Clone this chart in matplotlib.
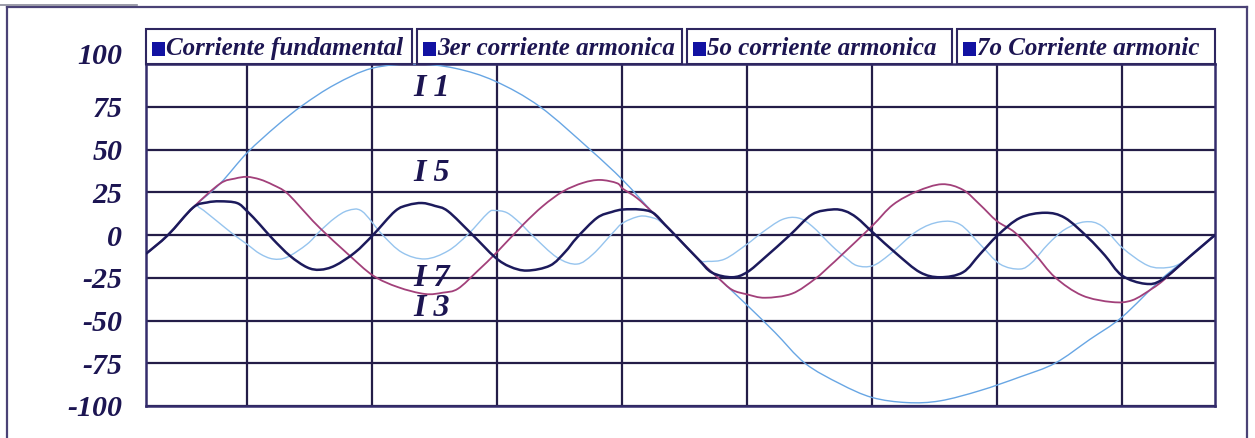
import matplotlib
matplotlib.use('Agg')
import numpy as np
import matplotlib.pyplot as plt
from matplotlib.patches import Rectangle, PathPatch
from matplotlib.lines import Line2D
from matplotlib.path import Path
import matplotlib.transforms as mtransforms

# ---------------- data ----------------
# x: horizontal position in chart units (0 = left edge of plot, 1069 = right edge)
x_i1 = [0, 22, 47, 74, 101, 131, 157, 189, 226, 269, 309, 349, 394, 444, 477, 507,
        529, 552, 572, 601, 629, 659, 694, 726, 761, 794, 834, 874, 909, 944, 976,
        1016, 1044, 1069]
y_i1 = [-11, 0, 16, 30, 48, 64, 76, 88, 97.5, 100, 97.5, 90, 75, 50, 32, 13,
        0, -14, -25, -41, -57, -75, -87, -95, -98, -97, -91, -83, -75, -61, -48,
        -25.5, -12.5, 0]

x_i3 = [0, 22, 47, 74, 89, 101, 114, 127, 141, 161, 174, 202, 227, 252, 279, 297,
        312, 332, 351, 377, 397, 417, 437, 454, 471, 477, 491, 507, 529, 552, 572,
        586, 601, 619, 646, 669, 684, 696, 726, 747, 771, 796, 817, 834, 851, 869,
        889, 909, 936, 966, 986, 1006, 1019, 1044, 1069]
y_i3 = [-11, 0, 16, 30, 33, 34, 32.5, 29.3, 24.5, 12, 4, -11.2, -23.7, -30.5, -34.5, -33.7,
        -31.4, -20.8, -10, 6, 17, 25.5, 30.5, 32.2, 30.3, 27, 21.6, 13, 0, -14, -25,
        -32, -34.7, -36.7, -34.3, -25.7, -18, -11.5, 5.2, 17.7, 25.5, 29.7, 26.4, 17.7, 8.1, 1.4,
        -11.2, -24.7, -35.3, -39.2, -38.2, -31.4, -25.7, -12.5, 0]

x_i5 = [0, 22, 47, 61, 74, 91, 101, 114, 127, 144, 161, 174, 189, 209, 227, 249,
        262, 276, 289, 302, 326, 349, 364, 381, 404, 419, 431, 451, 466, 477, 494,
        507, 519, 529, 552, 566, 586, 601, 619, 644, 666, 686, 699, 711, 727, 751,
        774, 794, 817, 834, 852, 874, 899, 919, 942, 959, 976, 999, 1016, 1044, 1069]
y_i5 = [-11, 0, 16, 19, 19.7, 18.7, 14, 6, -2.5, -12.2, -18.9, -20.3, -17.9, -10.2, 0, 13.9,
        17.5, 18.7, 17, 13.9, 0.4, -13, -18.5, -20.8, -17.9, -10, -1.5, 10, 13.5, 14.9, 14.9,
        13, 6, 0, -14, -22, -24.7, -21.8, -13.1, 0, 12, 14.9, 14, 10, 1.4, -11.2,
        -21.8, -24.7, -21.8, -11.2, 0, 10, 13, 10, -1.5, -12, -23.7, -28.5, -26.2, -12.5, 0]

x_i7 = [0, 22, 47, 54, 71, 86, 101, 114, 127, 141, 161, 174, 189, 202, 216, 236,
        256, 279, 302, 322, 342, 349, 361, 374, 387, 411, 431, 447, 467, 477, 494,
        507, 514, 529, 552, 562, 579, 601, 616, 636, 652, 666, 686, 699, 711, 727,
        744, 771, 794, 814, 834, 854, 874, 886, 902, 919, 939, 956, 976, 1002, 1022,
        1036, 1052, 1069]
y_i7 = [-11, 0, 16, 15.8, 8.1, 1, -5.4, -11, -14, -13, -5.4, 2.3, 10, 14.3, 13.9, 0.4,
        -10.2, -14, -9.3, 0.4, 12.9, 14.3, 13, 7, -0.6, -13.1, -17, -11.2, 1.4, 7.1, 11,
        10, 8, 0, -14, -15.4, -14, -5.4, 1.4, 9, 10, 5.2, -6.4, -13, -17.9, -17.9,
        -11.2, 2.3, 7.7, 6.2, -5.4, -17, -19.9, -16, -5.4, 3.3, 7.7, 5.2, -7.3, -17.9, -19,
        -16, -8, 0]

legend_labels = ["Corriente fundamental", "3er corriente armonica",
                 "5o corriente armonica", "7o Corriente armonic"]
curve_labels = ["I 1", "I 5", "I 7", "I 3"]
curve_label_y = [85.5, 35.7, -25.7, -42.7]
curve_label_x = 267
y_ticks = [-100, -75, -50, -25, 0, 25, 50, 75, 100]
v_grid = [101, 226, 351, 476, 601, 726, 851, 976]

# ---------------- styling ----------------
W, H = 1255, 438
NAVY = '#1c1552'
GRID = '#241d48'
FONT = dict(family='Liberation Serif', weight='bold', style='italic')


def smoothed_line(ax, xs, ys, **kw):
    """Draw a smoothed line (like a spreadsheet 'smoothed line' chart) through the points."""
    p = np.column_stack([xs, ys]).astype(float)
    n = len(p)
    verts = [p[0]]
    codes = [Path.MOVETO]
    for i in range(n - 1):
        p0 = p[i - 1] if i > 0 else p[i]
        p1, p2 = p[i], p[i + 1]
        p3 = p[i + 2] if i + 2 < n else p[i + 1]
        verts += [p1 + (p2 - p0) / 6.0, p2 - (p3 - p1) / 6.0, p2]
        codes += [Path.CURVE4] * 3
    patch = PathPatch(Path(verts, codes), fill=False, transform=ax.transData,
                      capstyle='round', joinstyle='round', **kw)
    ax.add_patch(patch)
    return patch


fig = plt.figure(figsize=(W / 100, H / 100), dpi=100)
fig.patch.set_facecolor('white')
ax = fig.add_axes([146 / W, 32 / H, 1069 / W, 342 / H])

ax.set_xlim(0, 1069)
ax.set_ylim(-100, 100)
ax.set_xticks(v_grid)
ax.set_xticklabels([])
ax.set_yticks(y_ticks)
ax.set_yticklabels([str(v) for v in y_ticks], fontsize=21.5, color=NAVY, **FONT)
ax.tick_params(axis='both', length=0)
ax.tick_params(axis='y', pad=17)
ax.grid(True, color=GRID, lw=1.6)
ax.set_axisbelow(True)
for s in ax.spines.values():
    s.set_color('#342c6c')
    s.set_linewidth(1.8)

# shift the top "100" label upward as in the reference
top_lbl = ax.yaxis.get_major_ticks()[-1].label1
top_lbl.set_transform(top_lbl.get_transform() +
                      mtransforms.ScaledTranslation(0, 11 / 100, fig.dpi_scale_trans))

smoothed_line(ax, x_i7, y_i7, edgecolor='#96c4ee', lw=1.0, zorder=3)
smoothed_line(ax, x_i1, y_i1, edgecolor='#68a6e4', lw=1.0, zorder=4)
smoothed_line(ax, x_i3, y_i3, edgecolor='#a2407a', lw=1.3, zorder=5)
smoothed_line(ax, x_i5, y_i5, edgecolor='#1c1a5c', lw=1.8, zorder=6)

for lbl, yv in zip(curve_labels, curve_label_y):
    ax.text(curve_label_x, yv, lbl, fontsize=23, color=NAVY, ha='left', va='center',
            zorder=7, **FONT)

# ---------------- legend boxes ----------------
boxes = [(146, 412), (417, 682), (687, 952), (957, 1215)]
for (x0, x1), lbl in zip(boxes, legend_labels):
    fig.add_artist(Rectangle((x0 / W, (H - 64) / H), (x1 - x0) / W, 35 / H,
                             transform=fig.transFigure, fill=True, fc='white',
                             ec='#2e2660', lw=1.5, zorder=10))
    fig.add_artist(Rectangle(((x0 + 6) / W, (H - 56) / H), 13 / W, 14 / H,
                             transform=fig.transFigure, fc='#1212a2', ec='none', zorder=11))
    fig.text((x0 + 20) / W, (H - 55) / H, lbl, fontsize=18, color=NAVY,
             ha='left', va='baseline', zorder=12, **FONT)

# ---------------- outer frame ----------------
fx0, fx1, fy = 7 / W, 1247 / W, (H - 7) / H
for xs, ys in [([fx0, fx0], [0, fy]), ([fx0, fx1], [fy, fy]), ([fx1, fx1], [fy, 0])]:
    fig.add_artist(Line2D(xs, ys, transform=fig.transFigure, color='#4a4276', lw=1.6))
fig.add_artist(Line2D([0, 137 / W], [(H - 5) / H] * 2, transform=fig.transFigure,
                      color='#8a8a9a', lw=1.2))

fig.savefig('out.png', dpi=100, facecolor='white')
